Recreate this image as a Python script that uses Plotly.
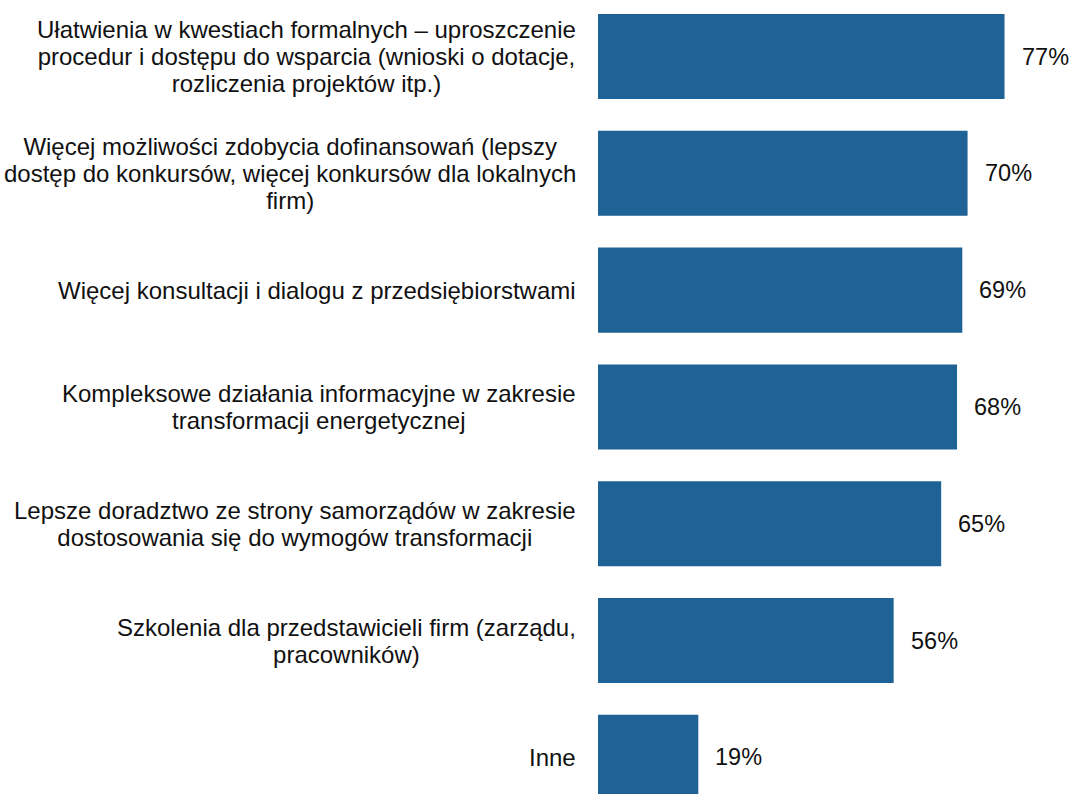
import plotly.graph_objects as go

categories = [
    "Ułatwienia w kwestiach formalnych – uproszczenie<br>procedur i dostępu do wsparcia (wnioski o dotacje,<br>rozliczenia projektów itp.)",
    "Więcej możliwości zdobycia dofinansowań (lepszy<br>dostęp do konkursów, więcej konkursów dla lokalnych<br>firm)",
    "Więcej konsultacji i dialogu z przedsiębiorstwami",
    "Kompleksowe działania informacyjne w zakresie<br>transformacji energetycznej",
    "Lepsze doradztwo ze strony samorządów w zakresie<br>dostosowania się do wymogów transformacji",
    "Szkolenia dla przedstawicieli firm (zarządu,<br>pracowników)",
    "Inne",
]
values = [77, 70, 69, 68, 65, 56, 19]
value_labels = [f"{v}%" for v in values]

bar_color = "#1F6295"
font_family = "Arial, Liberation Sans, sans-serif"
text_color = "#111111"

fig = go.Figure(
    go.Bar(
        x=values,
        y=list(range(len(categories))),
        orientation="h",
        marker=dict(color=bar_color, line=dict(width=0)),
        hoverinfo="skip",
    )
)

annotations = []
for i, (cat, v, lab) in enumerate(zip(categories, values, value_labels)):
    # font size sets line spacing (1.3 * 20.8 ≈ 27px); span sets glyph size
    styled = "<br>".join(
        f'<span style="font-size:24px">{line}</span>' for line in cat.split("<br>")
    )
    annotations.append(dict(
        x=0, y=i, xref="x", yref="y", text=styled, showarrow=False,
        xanchor="right", yanchor="middle", align="center", xshift=-20,
        font=dict(family=font_family, size=20.8, color=text_color),
    ))
    annotations.append(dict(
        x=v, y=i, xref="x", yref="y", text=lab, showarrow=False,
        xanchor="left", yanchor="middle", xshift=15,
        font=dict(family=font_family, size=23.5, color=text_color),
    ))

fig.update_layout(
    width=1070, height=794,
    margin=dict(l=598, r=0, t=0, b=0),
    paper_bgcolor="white", plot_bgcolor="white",
    bargap=0.272,
    showlegend=False,
    annotations=annotations,
    xaxis=dict(range=[0, 89.4], visible=False, fixedrange=True),
    yaxis=dict(range=[6.314, -0.484], visible=False, fixedrange=True),
)

fig.write_html(
    "out.html",
    config={"displayModeBar": False, "staticPlot": True},
    post_script="document.body.style.margin='0';document.body.style.overflow='hidden';",
)
